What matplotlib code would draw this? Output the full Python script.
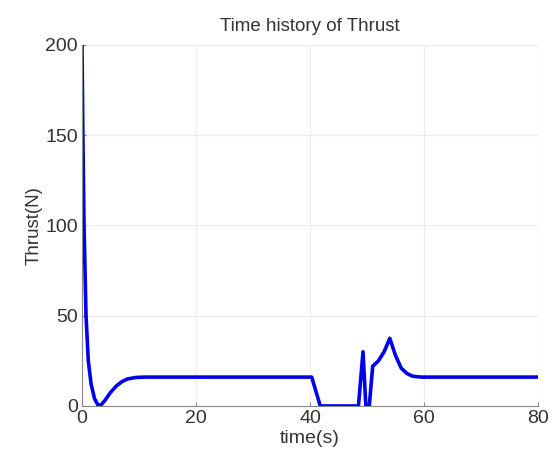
import numpy as np
import matplotlib.pyplot as plt

# thrust history, sampled at the breakpoints of the response
t = [0, 0.15, 0.35, 0.7, 1.1, 1.6, 2.2, 2.8, 3.3, 4.0, 5.0, 6.0, 7.0, 8.0, 9.5, 11, 15, 20, 30, 40.3,
     41.8, 48.5, 49.3, 49.8, 50.4, 51.0, 52.0, 53.0, 54.0, 55.0, 56.0, 57.0, 58.0, 59.5, 62, 70, 80]
thrust = [200, 150, 100, 50, 25, 12, 4, 0.5, 0.5, 3, 7.5, 11, 13.5, 15, 15.8, 16, 16, 16, 16, 16,
          0, 0, 30, 0, 0, 22, 25, 30, 37.5, 28, 21, 18, 16.5, 16, 16, 16, 16]

plt.rcParams['font.family'] = ['Liberation Sans', 'DejaVu Sans']

fig = plt.figure(figsize=(5.52, 4.53), dpi=100)
ax = fig.add_axes([0.1486, 0.1038, 0.826, 0.797])
ax.plot(t, thrust, color='#0000ee', linewidth=2.6, solid_joinstyle='round')

ax.set_xlim(0, 80)
ax.set_ylim(0, 200)
ax.set_xticks([0, 20, 40, 60, 80])
ax.set_yticks([0, 50, 100, 150, 200])
ax.grid(True, color='#ececec', linewidth=0.8)
ax.tick_params(direction='in', labelsize=14, length=3, color='#888888',
               labelcolor='#333333', pad=3)
for s in ['top', 'right']:
    ax.spines[s].set_visible(False)
for s in ['left', 'bottom']:
    ax.spines[s].set_color('#888888')

ax.set_xlabel('time(s)', fontsize=14, labelpad=2, color='#333333')
ax.set_ylabel('Thrust(N)', fontsize=13.5, labelpad=2, color='#333333')
ax.set_title('Time history of Thrust', fontsize=13.5, pad=10, color='#333333')

fig.savefig('out.png', dpi=100)
